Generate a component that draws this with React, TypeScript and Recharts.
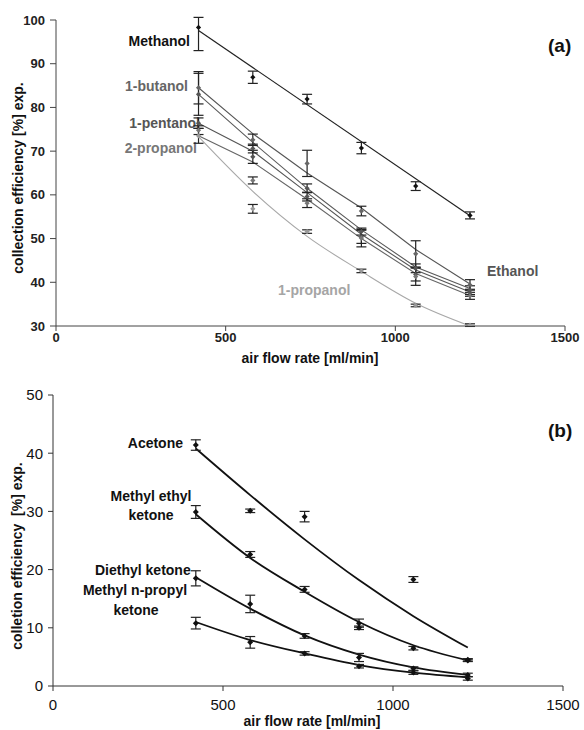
import React from "react";
import {
  ComposedChart,
  Line,
  Scatter,
  ErrorBar,
  XAxis,
  YAxis,
  Customized,
} from "recharts";

// air flow rates [ml/min]
const FLOW = [420, 580, 740, 900, 1060, 1220];
const FLOW_ENDS = [420, 1220];

// ---- panel (a): alcohols ----
const methanol = [98.3, 86.9, 81.9, 70.7, 62.0, 55.3];
const methanolErr: (number | number[])[] = [[5.3, 2.3], 1.4, 1.1, 1.3, 1.0, 0.8];
const methanolFit = [97.6, 55.2];

const butanol = [84.5, 72.6, 67.2, 56.3, 46.5, 39.4];
const butanolErr = [3.7, 1.3, 3.0, 1.1, 3.0, 1.2];
const butanolFit = [84.5, 74.0, 65.0, 57.0, 47.5, 39.6];

const ethanol = [83.0, 70.6, 61.5, 51.6, 43.2, 38.2];
const ethanolErr = [4.8, 1.0, 1.0, 0.8, 1.0, 1.0];
const ethanolFit = [83.0, 72.0, 61.5, 52.0, 43.5, 38.6];

const pentanol = [76.4, 68.7, 59.6, 50.4, 41.8, 37.6];
const pentanolErr = [1.2, 1.5, 1.0, 1.5, 1.5, 0.8];
const pentanolFit = [76.4, 70.0, 60.5, 51.0, 42.8, 37.8];

const propanol2 = [74.8, 63.3, 58.1, 50.1, 41.3, 36.9];
const propanol2Err = [1.0, 0.8, 1.0, 2.0, 2.0, 0.8];
const propanol2Fit = [73.5, 67.5, 59.0, 50.0, 42.0, 37.0];

const propanol1 = [73.5, 56.8, 51.6, 42.6, 34.7, 30.2];
const propanol1Err = [1.7, 1.0, 0.4, 0.4, 0.3, 0.3];
const propanol1Fit = [73.3, 60.8, 50.5, 42.5, 35.2, 30.0];

// ---- panel (b): ketones ----
const acetone = [41.4, 30.1, 29.1, 10.0, 18.3, 4.5];
const acetoneErr = [0.9, 0.3, 0.9, 0.3, 0.5, 0.2];
const acetoneFit = [40.8, 32.8, 25.2, 18.2, 12.0, 6.6];

const mek = [29.9, 22.6, 16.6, 10.8, 6.5, 4.4];
const mekErr = [1.1, 0.5, 0.5, 0.7, 0.3, 0.2];
const mekFit = [29.5, 22.0, 16.2, 11.0, 7.0, 4.4];

const dek = [18.5, 14.1, 8.6, 4.9, 3.0, 1.9];
const dekErr = [1.3, 1.5, 0.4, 0.7, 0.3, 0.3];
const dekFit = [18.7, 13.3, 8.7, 5.4, 3.2, 1.9];

const mnpk = [10.8, 7.5, 5.6, 3.4, 2.3, 1.3];
const mnpkErr = [1.0, 1.0, 0.3, 0.3, 0.3, 0.3];
const mnpkFit = [11.0, 7.9, 5.6, 3.6, 2.3, 1.5];

const X_TICKS = [0, 500, 1000, 1500];
const A_TICKS = [30, 40, 50, 60, 70, 80, 90, 100];
const B_TICKS = [0, 10, 20, 30, 40, 50];

const FONT = "'Liberation Sans', Arial, sans-serif";

const pts = (ys: number[], errs: (number | number[])[]) =>
  FLOW.map((x, i) => ({ x, y: ys[i], err: errs[i] }));
const fit = (ys: number[]) => {
  const xs = ys.length === 2 ? FLOW_ENDS : FLOW;
  return xs.map((x, i) => ({ x, y: ys[i] }));
};

const diamond =
  (color: string, r: number) =>
  // eslint-disable-next-line @typescript-eslint/no-explicit-any
  (props: any) => {
    const { cx, cy } = props;
    if (cx == null || cy == null) return null;
    return (
      <polygon
        points={`${cx},${cy - r} ${cx + r},${cy} ${cx},${cy + r} ${cx - r},${cy}`}
        fill={color}
      />
    );
  };

interface SeriesDef {
  name: string;
  points: { x: number; y: number; err: number | number[] }[];
  fit: { x: number; y: number }[];
  color: string;
  lineColor: string;
  width: number;
  curve: "linear" | "monotone";
}

const seriesA: SeriesDef[] = [
  { name: "Methanol", points: pts(methanol, methanolErr), fit: fit(methanolFit), color: "#111", lineColor: "#222", width: 1.2, curve: "linear" },
  { name: "1-butanol", points: pts(butanol, butanolErr), fit: fit(butanolFit), color: "#666", lineColor: "#555", width: 1.1, curve: "linear" },
  { name: "Ethanol", points: pts(ethanol, ethanolErr), fit: fit(ethanolFit), color: "#555", lineColor: "#5a5a5a", width: 1.1, curve: "linear" },
  { name: "1-pentanol", points: pts(pentanol, pentanolErr), fit: fit(pentanolFit), color: "#555", lineColor: "#555", width: 1.1, curve: "linear" },
  { name: "2-propanol", points: pts(propanol2, propanol2Err), fit: fit(propanol2Fit), color: "#777", lineColor: "#666", width: 1.1, curve: "linear" },
  { name: "1-propanol", points: pts(propanol1, propanol1Err), fit: fit(propanol1Fit), color: "#999", lineColor: "#a8a8a8", width: 1.1, curve: "monotone" },
];

const seriesB: SeriesDef[] = [
  { name: "Acetone", points: pts(acetone, acetoneErr), fit: fit(acetoneFit), color: "#111", lineColor: "#111", width: 1.8, curve: "monotone" },
  { name: "Methyl ethyl ketone", points: pts(mek, mekErr), fit: fit(mekFit), color: "#111", lineColor: "#111", width: 1.8, curve: "monotone" },
  { name: "Diethyl ketone", points: pts(dek, dekErr), fit: fit(dekFit), color: "#111", lineColor: "#111", width: 1.8, curve: "monotone" },
  { name: "Methyl n-propyl ketone", points: pts(mnpk, mnpkErr), fit: fit(mnpkFit), color: "#111", lineColor: "#111", width: 1.8, curve: "monotone" },
];

const bold = { fontFamily: FONT, fontWeight: 700, fontSize: 14 };

const TextA = () => (
  <g>
    <text x={190} y={41} dy="0.35em" textAnchor="end" fill="#111" style={bold}>Methanol</text>
    <text x={188} y={86} dy="0.35em" textAnchor="end" fill="#666" style={bold}>1-butanol</text>
    <text x={200} y={123} dy="0.35em" textAnchor="end" fill="#555" style={bold}>1-pentanol</text>
    <text x={197} y={148} dy="0.35em" textAnchor="end" fill="#777" style={bold}>2-propanol</text>
    <text x={487} y={271} dy="0.35em" fill="#555" style={bold}>Ethanol</text>
    <text x={278} y={290} dy="0.35em" fill="#a5a5a5" style={bold}>1-propanol</text>
    <text x={548} y={45} dy="0.35em" fill="#111" style={{ ...bold, fontSize: 19 }}>(a)</text>
    <text x={310} y={358} dy="0.35em" textAnchor="middle" fill="#111" style={bold}>air flow rate [ml/min]</text>
    <text x={18} y={178} dy="0.35em" textAnchor="middle" fill="#111" style={bold} transform="rotate(-90 18 178)">
      collection efficiency [%] exp.
    </text>
  </g>
);

const B_TOP = 372;
const TextB = () => (
  <g>
    <text x={183} y={443 - B_TOP} dy="0.35em" textAnchor="end" fill="#111" style={bold}>Acetone</text>
    <text x={151} y={496 - B_TOP} dy="0.35em" textAnchor="middle" fill="#111" style={bold}>Methyl ethyl</text>
    <text x={151} y={515 - B_TOP} dy="0.35em" textAnchor="middle" fill="#111" style={bold}>ketone</text>
    <text x={95} y={570 - B_TOP} dy="0.35em" fill="#111" style={bold}>Diethyl ketone</text>
    <text x={135} y={590 - B_TOP} dy="0.35em" textAnchor="middle" fill="#111" style={bold}>Methyl n-propyl</text>
    <text x={136} y={610 - B_TOP} dy="0.35em" textAnchor="middle" fill="#111" style={bold}>ketone</text>
    <text x={548} y={430 - B_TOP} dy="0.35em" fill="#111" style={{ ...bold, fontSize: 19 }}>(b)</text>
    <text x={312} y={721 - B_TOP} dy="0.35em" textAnchor="middle" fill="#111" style={bold}>air flow rate [ml/min]</text>
    <text
      x={17}
      y={556 - B_TOP}
      dy="0.35em"
      textAnchor="middle"
      fill="#111"
      style={{ ...bold, whiteSpace: "pre" }}
      transform={`rotate(-90 17 ${556 - B_TOP})`}
    >
      {"colletion efficiency  [%] exp."}
    </text>
  </g>
);

function renderSeries(list: SeriesDef[], r: number) {
  return [
    ...list.map((s) => (
      <Line
        key={`fit-${s.name}`}
        data={s.fit}
        dataKey="y"
        type={s.curve}
        stroke={s.lineColor}
        strokeWidth={s.width}
        dot={false}
        activeDot={false}
        isAnimationActive={false}
      />
    )),
    ...list.map((s) => (
      <Scatter
        key={`pts-${s.name}`}
        data={s.points}
        dataKey="y"
        shape={diamond(s.color, r)}
        isAnimationActive={false}
      >
        <ErrorBar dataKey="err" direction="y" width={5} stroke="#222" strokeWidth={1.2} />
      </Scatter>
    )),
  ];
}

export default function App() {
  return (
    <div style={{ position: "absolute", left: 0, top: 0, width: 584, height: 730, background: "#fff" }}>
      <ComposedChart width={584} height={372} margin={{ top: 20, right: 19, bottom: 0, left: 0 }}>
        <XAxis
          type="number"
          dataKey="x"
          domain={[0, 1500]}
          ticks={X_TICKS}
          allowDataOverflow
          height={46}
          tickSize={5}
          tickMargin={2}
          stroke="#444"
          tick={{ fill: "#222", fontSize: 13, fontWeight: 700, fontFamily: FONT }}
        />
        <YAxis
          type="number"
          domain={[30, 100]}
          ticks={A_TICKS}
          allowDataOverflow
          width={56}
          tickSize={6}
          tickMargin={5}
          stroke="#444"
          tick={{ fill: "#222", fontSize: 13, fontWeight: 700, fontFamily: FONT }}
        />
        {renderSeries(seriesA, 2.6)}
        <Customized component={<TextA />} />
      </ComposedChart>
      <ComposedChart width={584} height={358} margin={{ top: 23, right: 21, bottom: 0, left: 0 }}>
        <XAxis
          type="number"
          dataKey="x"
          domain={[0, 1500]}
          ticks={X_TICKS}
          allowDataOverflow
          height={44}
          tickSize={5}
          tickMargin={8}
          stroke="#333"
          tick={{ fill: "#111", fontSize: 15, fontFamily: FONT }}
        />
        <YAxis
          type="number"
          domain={[0, 50]}
          ticks={B_TICKS}
          allowDataOverflow
          width={53}
          tickSize={5}
          tickMargin={5}
          stroke="#333"
          tick={{ fill: "#111", fontSize: 15, fontFamily: FONT }}
        />
        {renderSeries(seriesB, 3)}
        <Customized component={<TextB />} />
      </ComposedChart>
    </div>
  );
}
